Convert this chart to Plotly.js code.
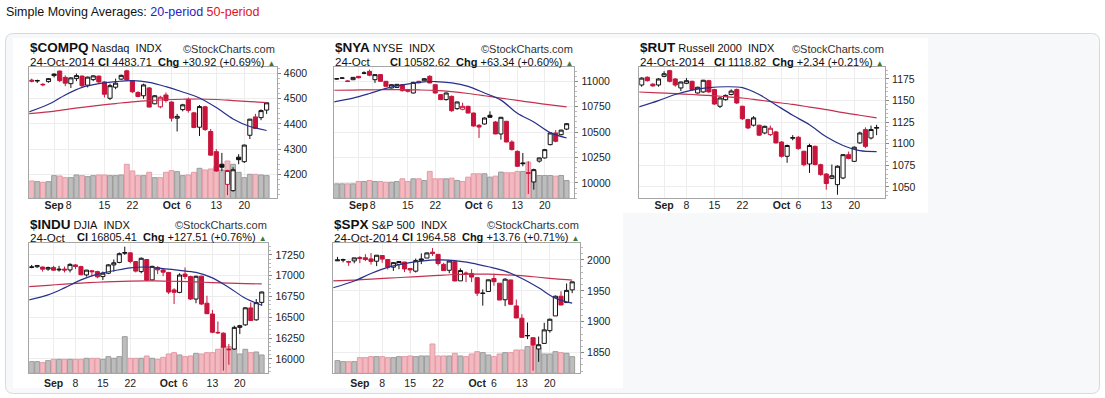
<!DOCTYPE html>
<html><head><meta charset="utf-8">
<script src="https://cdn.plot.ly/plotly-3.0.1.min.js"></script>
<style>html,body{margin:0;padding:0;background:#fff;overflow:hidden}#chart{width:1105px;height:398px}</style>
</head><body><div id="chart"></div>
<script>
// ---- data ----
const dates = ['Aug 26','Aug 27','Aug 28','Aug 29','Sep 2','Sep 3','Sep 4','Sep 5','Sep 8','Sep 9',
 'Sep 10','Sep 11','Sep 12','Sep 15','Sep 16','Sep 17','Sep 18','Sep 19','Sep 22','Sep 23',
 'Sep 24','Sep 25','Sep 26','Sep 29','Sep 30','Oct 1','Oct 2','Oct 3','Oct 6','Oct 7',
 'Oct 8','Oct 9','Oct 10','Oct 13','Oct 14','Oct 15','Oct 16','Oct 17','Oct 20','Oct 21',
 'Oct 22','Oct 23','Oct 24'];
const tickIdxA = [4, 6.6, 13, 18, 25, 28, 33, 38];
const tickIdxB = [4, 8, 13, 18, 25, 28, 33, 38];
const tickText = ['<b>Sep</b>','8','15','22','<b>Oct</b>','6','13','20'];
const maIdx = [-0.8, 3, 6, 9, 12, 15, 18, 21, 24, 27, 30, 33, 36, 39, 42];

const compqO = [4574,4571,4555,4568,4592,4610,4585,4560,4580,4590, 4554,4576,4590,4567,4502,4546,4578,4611,4572,4525, 4512,4543,4480,4468,4515,4487,4423,4457,4497,4444, 4387,4468,4370,4290,4240,4160,4135,4268,4250,4355, 4428,4425,4455];
const compqH = [4580,4576,4562,4582,4601,4612,4593,4585,4600,4593, 4588,4594,4592,4570,4560,4580,4596,4615,4573,4530, 4560,4547,4515,4512,4525,4490,4440,4480,4505,4448, 4475,4472,4380,4300,4285,4218,4228,4280,4318,4420, 4440,4458,4486];
const compqL = [4565,4563,4550,4564,4585,4566,4550,4543,4570,4546, 4545,4570,4560,4505,4495,4538,4575,4570,4523,4506, 4500,4466,4478,4462,4485,4410,4370,4450,4445,4383, 4352,4372,4275,4210,4212,4117,4131,4240,4245,4340, 4380,4415,4440];
const compqC = [4570,4572,4557,4580,4598,4572,4562,4583,4592,4552, 4586,4591,4567,4518,4552,4562,4593,4575,4528,4509, 4555,4467,4512,4506,4493,4423,4430,4476,4454,4386, 4469,4378,4276,4213,4228,4215,4218,4258,4316,4419, 4382,4453,4484];
const compqV = [1560,1500,1440,1500,2040,2010,1860,1860,2100,2040, 1950,2040,2100,2100,2040,2040,2100,3060,2460,2040, 2040,2340,1860,1860,2340,2490,2400,2040,2100,2340, 2700,2550,2640,2850,2550,3360,3060,2340,1860,2160, 2160,2100,2040];
const compqMa20 = [4445,4478,4515,4545,4560,4568,4572,4565,4548,4527,4503,4465,4420,4390,4374];
const compqMa50 = [4440,4448,4457,4466,4474,4481,4488,4493,4496,4498,4499,4497,4493,4489,4485];

const nyaO = [11022,11030,11003,11016,11049,11079,11098,11016,11066,11000, 10934,10940,10967,10918,10885,11000,11005,11049,10967,10869, 10820,10852,10731,10725,10754,10688,10567,10580,10666,10600, 10482,10607,10403,10311,10197,10094,10010,10215,10246,10377, 10492,10475,10530];
const nyaH = [11032,11036,11010,11042,11052,11098,11115,11070,11070,11002, 10970,10974,10972,10925,10995,11005,11030,11060,10970,10875, 10890,10860,10800,10790,10760,10692,10580,10645,10705,10610, 10650,10610,10420,10320,10295,10213,10140,10250,10335,10500, 10520,10525,10590];
const nyaL = [11018,11026,10995,11012,11030,11070,11050,10984,11000,10950, 10930,10936,10900,10890,10880,10980,11000,10980,10880,10815, 10810,10700,10720,10715,10685,10555,10443,10575,10640,10480, 10426,10400,10320,10160,10164,9892,9934,10200,10240,10370, 10400,10470,10520];
const nyaC = [11026,11033,11000,11039,11035,11082,11060,11066,11000,10951, 10967,10970,10908,10902,10990,10985,11026,10984,10885,10820, 10885,10711,10797,10754,10688,10560,10550,10639,10646,10482, 10646,10403,10328,10164,10190,10100,10131,10246,10328,10492, 10410,10520,10583];
const nyaV = [3440,3440,3440,3440,4000,4000,4240,4000,4000,3840, 3840,4000,4640,4000,4640,4640,4240,6400,4640,4640, 4640,4800,4240,4000,5040,5840,5840,5840,5040,5280, 6240,6080,6080,6400,6400,8640,6400,5440,5440,5440, 5280,5440,4240];
const nyaMa20 = [10795,10835,10880,10930,10965,10990,10998,10985,10950,10885,10815,10685,10600,10495,10442];
const nyaMa50 = [10912,10914,10916,10918,10918,10915,10910,10898,10880,10858,10835,10812,10790,10768,10748];

const rutO = [1168,1177,1169,1168,1178,1184.6,1175,1164.6,1170,1172.3, 1158.8,1160,1173,1162.7,1143.4,1151,1157,1162.7,1143.4,1128, 1121.5,1121.5,1112.5,1110.6,1113.7,1102,1085.5,1106.5,1107.5,1091.3, 1076.6,1097,1075.8,1065,1060,1052.7,1060.4,1087.4,1079.7,1101, 1116.4,1106.7,1118];
const rutH = [1177,1178,1170,1176,1184,1185.5,1176,1172,1176,1173, 1166,1174,1174,1163.5,1154,1157,1163,1164,1144,1129, 1132,1122,1121,1121,1115,1103,1099,1110,1109,1092, 1100,1098,1077,1066,1076,1075,1088,1091,1097,1114, 1119,1121,1122];
const rutL = [1166,1172,1166,1166,1177,1171,1166,1161,1169,1161.5, 1158,1159,1159,1145,1141.4,1150,1156,1146,1127.5,1117, 1120,1109,1111,1109,1100.5,1084,1078,1104,1093,1074, 1066.2,1075,1063,1046.9,1059,1041,1059,1082,1079,1100, 1095,1105,1110];
const rutC = [1176,1173,1167,1175,1181,1172.3,1168,1171.5,1173,1162.7, 1165.4,1173.5,1160,1146,1153,1156,1161,1147.2,1129,1118.3, 1130,1110,1120.2,1118,1101,1085.5,1098,1107,1094.4,1075.8, 1098,1076,1064.3,1054,1063,1074,1087.4,1083,1096,1112.5, 1097,1116.5,1118.8];
const rutMa20 = [1142,1150,1157,1162,1165,1166,1165,1157,1145,1133,1122,1108,1098,1092,1091];
const rutMa50 = [1160,1159,1158,1157,1156,1154.5,1153,1150.5,1148,1145.5,1142.5,1139.5,1136,1133,1130];

const induO = [17100,17108,17105,17080,17100,17070,17080,17070,17130,17110, 17010,17060,17050,16990,17030,17130,17160,17270,17275,17170, 17050,17195,16950,17100,17070,17040,16830,16800,17020,16990, 16720,16995,16670,16540,16320,16310,16110,16120,16380,16410, 16614,16470,16680];
const induH = [17130,17130,17110,17110,17120,17120,17110,17150,17140,17120, 17070,17070,17060,17050,17140,17195,17280,17350,17280,17175, 17220,17200,17120,17115,17090,17045,16850,17030,17100,17000, 17000,17000,16760,16590,16450,16320,16180,16400,16410,16620, 16680,16720,16810];
const induL = [17090,17095,17050,17060,17060,17050,17040,17040,17080,17005, 16990,16990,16970,16950,17020,17050,17150,17250,17150,17040, 17030,16940,16945,17020,16995,16780,16660,16790,16960,16710, 16670,16650,16540,16310,16300,15860,15930,16110,16300,16400, 16460,16460,16640];
const induC = [17106,17122,17079,17098,17067,17078,17069,17137,17111,17013, 17068,17049,16987,17031,17131,17156,17265,17279,17172,17056, 17210,16945,17113,17071,17043,16804,16801,17009,16991,16720, 16994,16660,16544,16321,16315,16142,16117,16380,16400,16615, 16462,16677,16805];
const induV = [105,105,96,114,126,126,126,126,126,126, 135,135,135,126,150,135,150,330,135,135, 135,156,135,126,144,174,186,165,150,156, 180,174,186,186,216,240,240,216,174,216, 186,192,165];
const induMa20 = [16705,16770,16855,16950,17020,17060,17095,17105,17085,17065,17040,16975,16860,16730,16645];
const induMa50 = [16868,16885,16900,16912,16922,16930,16936,16938,16936,16932,16926,16918,16912,16906,16902];

const spxO = [1998.6,2000.5,1997.4,1998.5,2004.1,2003.6,2001.7,1998.0,2007.2,2000.7, 1988.4,1992.9,1996.7,1986.0,1981.9,1999.3,2003.1,2012.7,2009.1,1992.8, 1983.3,1997.3,1966.2,1978.9,1978.2,1971.4,1945.8,1949.0,1970.0,1962.4, 1935.6,1967.7,1925.6,1905.7,1877.1,1874.2,1855.9,1864.9,1885.6,1909.4, 1941.3,1931.0,1951.6];
const spxH = [2005.0,2002.1,1998.6,2003.4,2006.1,2009.3,2011.2,2007.7,2007.2,2001.0, 1996.7,1997.7,1996.7,1987.2,2002.3,2010.7,2012.3,2019.3,2009.1,1995.4, 1999.8,1997.3,1986.4,1981.3,1985.2,1971.4,1952.3,1968.2,1977.4,1962.4, 1970.4,1967.7,1936.0,1912.1,1898.7,1874.2,1876.0,1898.2,1905.0,1942.5, 1949.3,1961.9,1965.3];
const spxL = [1998.6,1996.2,1990.5,1994.6,1994.9,1998.1,1992.5,1990.1,1995.6,1984.6, 1982.3,1985.0,1980.3,1978.5,1979.7,1993.3,2003.1,2006.6,1991.0,1982.8, 1978.6,1965.5,1966.2,1964.0,1964.1,1941.7,1926.0,1949.0,1958.4,1935.1, 1925.3,1927.6,1906.1,1874.1,1871.8,1820.7,1835.0,1864.9,1882.3,1909.4, 1926.8,1931.0,1946.3];
const spxC = [2000.0,2000.1,1996.7,2003.4,2002.3,2000.7,1997.7,2007.7,2001.5,1988.4, 1995.7,1997.5,1985.5,1984.1,1999.0,2001.6,2011.4,2010.4,1994.3,1982.8, 1998.3,1966.0,1982.9,1977.8,1972.3,1946.2,1946.2,1967.9,1964.8,1935.1, 1968.9,1928.2,1906.1,1874.7,1877.7,1862.5,1862.8,1886.8,1904.0,1941.3, 1927.1,1950.8,1964.6];
const spxV = [3040,2800,2800,2800,3760,3760,4000,4000,4000,3760, 3760,4000,4000,4160,4000,4160,4160,7040,4160,4160, 4160,4800,4160,4000,4640,5200,4960,4400,4000,4640, 4960,4960,5600,5600,6400,6800,6240,4640,4640,5200, 4960,4800,4000];
const spxMa20 = [1955,1966,1978,1988,1994,1998,2000,1999,1995,1989,1982,1970,1955,1938,1930];
const spxMa50 = [1966,1967.5,1969,1970.5,1972,1973.5,1975,1976.5,1977.2,1977,1976,1974.5,1972,1969.5,1967.5];

// ---- layout helpers ----
const W = 1105, H = 398;
const X = x => x / W, Y = y => 1 - y / H;
const FONT = 'Liberation Sans, Arial, Helvetica, sans-serif';
const RED = '#c8143c', BLK = '#111111';
const NB = '\u00a0';

const panels = [
 {sym:'$COMPQ', name:'Nasdaq'+NB+NB+'INDX', date:'24-Oct-2014', cl:'4483.71', chg:'+30.92 (+0.69%)',
  o:compqO,h:compqH,l:compqL,c:compqC,v:compqV,m20:compqMa20,m50:compqMa50,
  frame:[29.3,67.3,276.7,198.3], xr:[-0.43,43.8], yr:[4104.6,4625], dt:100, t0:4200, ticks:tickIdxA, vmax:11790, row:0},
 {sym:'$NYA', name:'NYSE'+NB+NB+'INDX', date:'24-Oct', cl:'10582.62', chg:'+63.34 (+0.60%)',
  o:nyaO,h:nyaH,l:nyaL,c:nyaC,v:nyaV,m20:nyaMa20,m50:nyaMa50,
  frame:[334.3,67.3,574.3,198.3], xr:[-0.43,43.4], yr:[9849,11138], dt:250, t0:10000, ticks:tickIdxA, vmax:31200, row:0},
 {sym:'$RUT', name:'Russell 2000'+NB+NB+'INDX', date:'24-Oct-2014', cl:'1118.82', chg:'+2.34 (+0.21%)',
  o:rutO,h:rutH,l:rutL,c:rutC,v:null,m20:rutMa20,m50:rutMa50,
  frame:[639.3,67.3,885,198.3], xr:[-0.43,43.5], yr:[1036.9,1188.5], dt:25, t0:1050, ticks:tickIdxB, vmax:0, row:0},
 {sym:'$INDU', name:'DJIA'+NB+NB+'INDX', date:'24-Oct', cl:'16805.41', chg:'+127.51 (+0.76%)',
  o:induO,h:induH,l:induL,c:induC,v:induV,m20:induMa20,m50:induMa50,
  frame:[29.3,243.3,268.3,373.3], xr:[-0.43,43.2], yr:[15828,17390], dt:250, t0:16000, ticks:tickIdxB, vmax:1170, row:1},
 {sym:'$SPX', name:'S&P 500'+NB+NB+'INDX', date:'24-Oct-2014', cl:'1964.58', chg:'+13.76 (+0.71%)',
  o:spxO,h:spxH,l:spxL,c:spxC,v:spxV,m20:spxMa20,m50:spxMa50,
  frame:[333.3,243.3,580,373.3], xr:[-0.75,43.4], yr:[1816.5,2027], dt:50, t0:1850, ticks:tickIdxB, vmax:31200, row:1}
];

const traces = [], annotations = [], shapes = [];
const layout = {
  width: W, height: H, margin: {l:0, r:0, t:0, b:0}, paper_bgcolor: '#ffffff', plot_bgcolor: 'rgba(0,0,0,0)',
  showlegend: false, hovermode: false, dragmode: false, boxgap: 0.26, boxgroupgap: 0, bargap: 0.12,
  font: {family: FONT, color: '#222'}
};

// container & panel backgrounds
(function(){
  const x0=5.5,y0=33.5,x1=1099.5,y1=393.5,r=8;
  const P=(x,y)=>X(x)+','+Y(y);
  shapes.push({type:'path', xref:'paper', yref:'paper', layer:'below',
    path:'M'+P(x0+r,y0)+' L'+P(x1-r,y0)+' Q'+P(x1,y0)+' '+P(x1,y0+r)+' L'+P(x1,y1-r)+' Q'+P(x1,y1)+' '+P(x1-r,y1)+
         ' L'+P(x0+r,y1)+' Q'+P(x0,y1)+' '+P(x0,y1-r)+' L'+P(x0,y0+r)+' Q'+P(x0,y0)+' '+P(x0+r,y0)+' Z',
    fillcolor:'#f7f8fa', line:{color:'#d9d9d9', width:1}});
  [[13,38,318,213],[318,38,623,213],[623,38,928,213],[13,213,318,388],[318,213,623,388]].forEach(b=>{
    shapes.push({type:'rect', xref:'paper', yref:'paper', layer:'below', x0:X(b[0]), x1:X(b[2]), y0:Y(b[3]), y1:Y(b[1]),
      fillcolor:'#ffffff', line:{width:0}});
  });
})();

annotations.push({xref:'paper', yref:'paper', x:X(4), y:Y(12.5), xanchor:'left', yanchor:'middle', showarrow:false,
  text:'Simple Moving Averages: <span style="color:#2323c8">20-period</span> <span style="color:#e0102a">50-period</span>',
  font:{family:FONT, size:12.5, color:'#111'}});

panels.forEach((p, n) => {
  const k = n + 1, s = k === 1 ? '' : String(k);
  const xN = 'x' + s, yN = 'y' + s, vN = 'y' + (k + 5);
  const hasV = !!p.v;
  const [fx0, fy0, fx1, fy1] = p.frame;
  const xd = [X(fx0), X(fx1)], yd = [Y(fy1), Y(fy0)];
  const idx = p.c.map((_, i) => i);
  const up = p.c.map((c, i) => i === 0 ? c >= p.o[0] : c >= p.c[i - 1]);

  layout['xaxis' + s] = {domain: xd, anchor: hasV ? vN : yN, range: p.xr, fixedrange: true,
    tickmode: 'array', tickvals: p.ticks, ticktext: tickText, ticks: '', tickangle: 0,
    ticklabelstandoff: p.row === 0 ? -3 : 0,
    tickfont: {size: 10.5, color: '#222', family: FONT},
    showgrid: true, gridcolor: '#ededed', gridwidth: 1, zeroline: false,
    showline: true, mirror: true, linecolor: '#a6a6a6', linewidth: 1, rangeslider: {visible: false}};
  const ya = {domain: yd, anchor: xN, side: 'right', range: p.yr, fixedrange: true,
    tickmode: 'linear', tick0: p.t0, dtick: p.dt, tickformat: 'd', ticks: 'outside', ticklen: 3, tickcolor: '#888',
    ticklabelstandoff: 1, tickfont: {size: 10.5, color: '#222', family: FONT},
    minor: {dtick: p.dt / 5, tick0: p.t0, ticks: 'outside', ticklen: 2, tickcolor: '#bbb', showgrid: false},
    showgrid: true, gridcolor: '#ededed', zeroline: false,
    showline: true, mirror: true, linecolor: '#a6a6a6', linewidth: 1};
  if (hasV) ya.overlaying = vN;
  layout['yaxis' + s] = ya;

  if (hasV) {
    layout['yaxis' + (k + 5)] = {domain: yd, anchor: xN, range: [0, p.vmax], visible: false, fixedrange: true};
    traces.push({type: 'bar', xaxis: xN, yaxis: vN, x: idx, y: p.v, hoverinfo: 'skip',
      marker: {color: up.map(u => u ? '#bdbdbd' : '#f2b9c0'), line: {color: up.map(u => u ? '#9c9c9c' : '#e59aa5'), width: 1}}});
  }
  traces.push({type: 'scatter', mode: 'lines', xaxis: xN, yaxis: yN, x: maIdx, y: p.m50, hoverinfo: 'skip',
    line: {color: '#c4314f', width: 1.2, shape: 'spline', smoothing: 0.9}});
  traces.push({type: 'scatter', mode: 'lines', xaxis: xN, yaxis: yN, x: maIdx, y: p.m20, hoverinfo: 'skip',
    line: {color: '#27308a', width: 1.2, shape: 'spline', smoothing: 0.9}});

  const sub = (arr, want) => arr.filter((_, i) => up[i] === want);
  [[true, BLK], [false, RED]].forEach(([want, col]) => {
    traces.push({type: 'candlestick', xaxis: xN, yaxis: yN, hoverinfo: 'skip', whiskerwidth: 0,
      x: sub(idx, want), open: sub(p.o, want), high: sub(p.h, want), low: sub(p.l, want), close: sub(p.c, want),
      increasing: {line: {color: col, width: 1}, fillcolor: '#ffffff'},
      decreasing: {line: {color: col, width: 1}, fillcolor: col}});
  });

  // headers
  const ty = p.row === 0 ? 48 : 224.7, ly = p.row === 0 ? 61.5 : 237.5;
  annotations.push({xref:'paper', yref:'paper', x:X(fx0 - 1.5), y:Y(ty), xanchor:'left', yanchor:'middle', showarrow:false,
    text:'<b><span style="font-size:13.5px">' + p.sym + '</span></b> ' + p.name, font:{family:FONT, size:11, color:'#111'}});
  annotations.push({xref:'paper', yref:'paper', x:X(fx1 + 0.5), y:Y(ty + 0.5), xanchor:'right', yanchor:'middle', showarrow:false,
    text:'\u00a9StockCharts.com', font:{family:FONT, size:11, color:'#333'}});
  annotations.push({xref:'paper', yref:'paper', x:X(fx0 - 1.5), y:Y(ly), xanchor:'left', yanchor:'middle', showarrow:false,
    text:p.date, font:{family:FONT, size:11.6, color:'#111'}});
  annotations.push({xref:'paper', yref:'paper', x:X(fx1 + 0.5), y:Y(ly), xanchor:'right', yanchor:'middle', showarrow:false,
    text:'<b>Cl</b> ' + p.cl + NB + NB + '<b>Chg</b> ' + p.chg + ' <span style="color:#3a7a3a;font-size:8px">\u25B2</span>',
    font:{family:FONT, size:11, color:'#111'}});
});

layout.shapes = shapes;
layout.annotations = annotations;
Plotly.newPlot('chart', traces, layout, {staticPlot: true, displayModeBar: false});
</script>
</body></html>
